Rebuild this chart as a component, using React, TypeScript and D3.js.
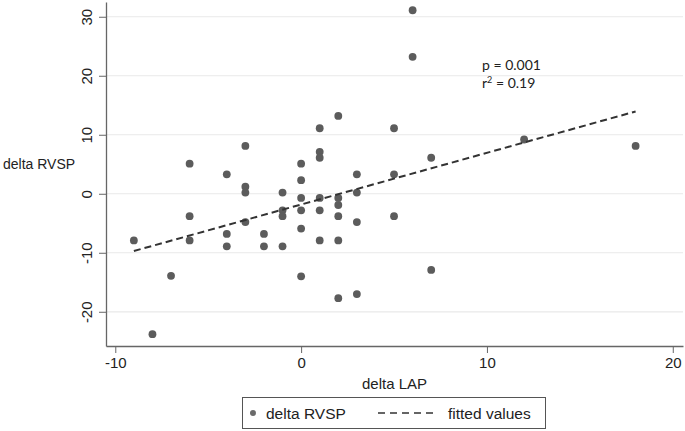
import React, { useEffect, useRef } from 'react';
import * as d3 from 'd3';

// delta LAP (x) and delta RVSP (y) per patient
const lapValues = [
  -9, -8, -7, -6, -6, -6, -4, -4, -4, -3, -3, -3, -3, -2, -2, -1, -1, -1, -1,
  0, 0, 0, 0, 0, 0, 1, 1, 1, 1, 1, 1, 2, 2, 2, 2, 2, 2, 3, 3, 3, 3,
  5, 5, 5, 6, 6, 7, 7, 12, 18,
];
const rvspValues = [
  -7.9, -23.8, -13.9, 5.1, -3.8, -7.9, 3.3, -6.8, -8.9, 8.1, 1.2, 0.2, -4.8, -6.8, -8.9, 0.2, -2.8, -3.8, -8.9,
  5.1, 2.3, -0.7, -2.8, -5.9, -14, 11.1, 7.1, 6.1, -0.7, -2.8, -7.9, 13.2, -0.7, -1.9, -3.8, -7.9, -17.7, 3.3, 0.2, -4.8, -17,
  11.1, 3.3, -3.8, 31.1, 23.2, 6.1, -12.9, 9.2, 8.1,
];

const xTicks = [-10, 0, 10, 20];
const yTicks = [-20, -10, 0, 10, 20, 30];

// linear fit
const fitIntercept = -1.82;
const fitSlope = 0.876;

const pText = 'p = 0.001';
const r2Value = '0.19';

const W = 685;
const H = 431;

const App = () => {
  const svgRef = useRef<SVGSVGElement>(null);

  useEffect(() => {
    const svg = d3.select(svgRef.current);
    svg.selectAll('*').remove();

    const left = 106, right = 683, top = 2, bottom = 346;

    const x = d3.scaleLinear().domain([-10.5, 20.55]).range([left, right]);
    const y = d3.scaleLinear().domain([-25.8, 32.5]).range([bottom, top]);

    const font = 'Liberation Sans, Arial, sans-serif';
    const fmt = (d: d3.NumberValue) => String(d); // plain hyphen minus, as in the original

    // grid lines
    svg.append('g')
      .selectAll('line')
      .data(yTicks)
      .join('line')
      .attr('x1', left)
      .attr('x2', right)
      .attr('y1', d => y(d))
      .attr('y2', d => y(d))
      .attr('stroke', '#e9e9e9')
      .attr('stroke-width', 1.2);

    // y axis
    const yAxis = svg.append('g')
      .attr('transform', `translate(${left},0)`)
      .call(d3.axisLeft(y).tickValues(yTicks).tickFormat(fmt).tickSize(7).tickSizeOuter(0));
    yAxis.select('.domain').attr('stroke', '#666').attr('stroke-width', 1.3);
    yAxis.selectAll('.tick line').attr('stroke', '#666');
    yAxis.selectAll('.tick text')
      .attr('font-family', font)
      .attr('font-size', 15)
      .attr('fill', '#222')
      .attr('text-anchor', 'middle')
      .attr('x', 0)
      .attr('y', 0)
      .attr('dy', '0.35em')
      .attr('transform', 'translate(-19,0) rotate(-90)');

    // x axis
    const xAxis = svg.append('g')
      .attr('transform', `translate(0,${bottom})`)
      .call(d3.axisBottom(x).tickValues(xTicks).tickFormat(fmt).tickSize(7).tickPadding(4).tickSizeOuter(0));
    xAxis.select('.domain').attr('stroke', '#666').attr('stroke-width', 1.3);
    xAxis.selectAll('.tick line').attr('stroke', '#666');
    xAxis.selectAll('.tick text')
      .attr('font-family', font)
      .attr('font-size', 15)
      .attr('fill', '#222');

    // axis titles
    svg.append('text')
      .attr('x', 3)
      .attr('y', 169)
      .attr('font-family', font)
      .attr('font-size', 14)
      .attr('fill', '#222')
      .text('delta RVSP');

    svg.append('text')
      .attr('x', (left + right) / 2)
      .attr('y', 389)
      .attr('text-anchor', 'middle')
      .attr('font-family', font)
      .attr('font-size', 15)
      .attr('fill', '#222')
      .text('delta LAP');

    // points
    const pts = lapValues.map((v, i) => [v, rvspValues[i]]);
    svg.append('g')
      .selectAll('circle')
      .data(pts)
      .join('circle')
      .attr('cx', d => x(d[0]))
      .attr('cy', d => y(d[1]))
      .attr('r', 3.9)
      .attr('fill', '#5c5c5c');

    // fitted line over the range of the data
    const xMin = d3.min(lapValues) as number;
    const xMax = d3.max(lapValues) as number;
    const line = d3.line<number>()
      .x(d => x(d))
      .y(d => y(fitIntercept + fitSlope * d));
    svg.append('path')
      .datum([xMin, xMax])
      .attr('fill', 'none')
      .attr('stroke', '#333')
      .attr('stroke-width', 2)
      .attr('stroke-dasharray', '7,4')
      .attr('d', line);

    // stats annotation
    const ann = svg.append('text')
      .attr('font-family', 'Lato, Open Sans, sans-serif')
      .attr('font-size', 14)
      .attr('fill', '#222');
    ann.append('tspan').attr('x', 482).attr('y', 70).text(pText);
    const r = ann.append('tspan').attr('x', 482).attr('y', 88);
    r.append('tspan').text('r');
    r.append('tspan').attr('font-size', 9).attr('dy', -5).text('2');
    r.append('tspan').attr('dy', 5).text(` = ${r2Value}`);

    // legend
    const lg = svg.append('g');
    lg.append('rect')
      .attr('x', 242.5)
      .attr('y', 397.5)
      .attr('width', 303)
      .attr('height', 31)
      .attr('fill', 'white')
      .attr('stroke', '#555')
      .attr('stroke-width', 1);
    lg.append('circle')
      .attr('cx', 253)
      .attr('cy', 413)
      .attr('r', 3)
      .attr('fill', '#6a6a6a');
    lg.append('text')
      .attr('x', 266)
      .attr('y', 418.5)
      .attr('font-family', font)
      .attr('font-size', 15.5)
      .attr('fill', '#222')
      .text('delta RVSP');
    lg.append('line')
      .attr('x1', 378)
      .attr('x2', 438)
      .attr('y1', 413)
      .attr('y2', 413)
      .attr('stroke', '#333')
      .attr('stroke-width', 1.5)
      .attr('stroke-dasharray', '7,5');
    lg.append('text')
      .attr('x', 448)
      .attr('y', 418.5)
      .attr('font-family', font)
      .attr('font-size', 15.5)
      .attr('fill', '#222')
      .text('fitted values');
  }, []);

  return (
    <svg
      ref={svgRef}
      width={W}
      height={H}
      style={{ position: 'absolute', left: 0, top: 0, background: 'white' }}
    />
  );
};

export default App;
